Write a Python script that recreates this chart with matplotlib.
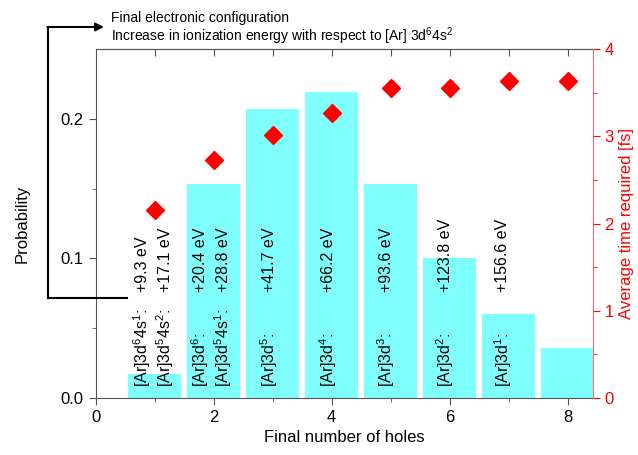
import matplotlib
matplotlib.use('Agg')
import matplotlib.pyplot as plt
import numpy as np

plt.rcParams['font.family'] = ['Liberation Sans', 'DejaVu Sans']
plt.rcParams['mathtext.fontset'] = 'custom'
plt.rcParams['mathtext.rm'] = 'Liberation Sans'
plt.rcParams['mathtext.it'] = 'Liberation Sans'

# data
holes = [1, 2, 3, 4, 5, 6, 7, 8]
probability = [0.017, 0.153, 0.207, 0.219, 0.153, 0.100, 0.060, 0.036]
avg_time = [2.15, 2.73, 3.01, 3.27, 3.55, 3.55, 3.64, 3.64]

config_x = [0.79, 1.18, 1.77, 2.16, 2.94, 3.94, 4.93, 5.92, 6.90]
config_labels = ['[Ar]3d$^6$4s$^1$:', '[Ar]3d$^5$4s$^2$:', '[Ar]3d$^6$:', '[Ar]3d$^5$4s$^1$:',
                 '[Ar]3d$^5$:', '[Ar]3d$^4$:', '[Ar]3d$^3$:', '[Ar]3d$^2$:', '[Ar]3d$^1$:']
energy_labels = ['+9.3 eV', '+17.1 eV', '+20.4 eV', '+28.8 eV', '+41.7 eV',
                 '+66.2 eV', '+93.6 eV', '+123.8 eV', '+156.6 eV']

fig = plt.figure(figsize=(6.38, 4.55), dpi=100)
ax = fig.add_axes([0.1497, 0.1253, 0.7793, 0.7667])

ax.bar(holes, probability, width=0.9, color='#80ffff', zorder=1)
for x, c, e in zip(config_x, config_labels, energy_labels):
    ax.text(x, 0.008, c, rotation=90, ha='center', va='bottom', fontsize=11.5, zorder=3)
    ax.text(x, 0.076, e, rotation=90, ha='center', va='bottom', fontsize=11.5, zorder=3)

ax.set_xlim(0, 8.42)
ax.set_ylim(0, 0.25)
ax.set_xticks([0, 2, 4, 6, 8])
ax.set_xticks([1, 3, 5, 7], minor=True)
ax.set_yticks([0.0, 0.1, 0.2])
ax.set_yticklabels(['0.0', '0.1', '0.2'])
ax.set_yticks([0.05, 0.15], minor=True)
ax.tick_params(axis='both', which='major', labelsize=12, length=5, color='#555555')
ax.tick_params(axis='both', which='minor', length=3, color='#555555')
ax.tick_params(axis='x', top=True, which='both')
ax.set_xlabel('Final number of holes', fontsize=12)
ax.set_ylabel('Probability', fontsize=12, labelpad=22)
for s in ['left', 'bottom', 'top']:
    ax.spines[s].set_color('#555555')
ax.spines['right'].set_visible(False)

ax2 = ax.twinx()
ax2.plot(holes, avg_time, 'D', color='red', markersize=9, zorder=4)
ax2.set_ylim(0, 4)
ax2.set_yticks([0, 1, 2, 3, 4])
ax2.set_yticks([0.5, 1.5, 2.5, 3.5], minor=True)
ax2.tick_params(axis='y', which='major', labelsize=12, colors='red', length=5)
ax2.tick_params(axis='y', which='minor', colors='red', length=3)
ax2.spines['right'].set_color('#ff6666')
for s in ['left', 'bottom', 'top']:
    ax2.spines[s].set_visible(False)
ax2.set_ylabel('Average time required [fs]', color='red', fontsize=12)

# top ticks point into the plot, on a copy of the x axis
top = ax.secondary_xaxis('top')
top.set_xticks([1, 2, 3, 4, 5, 6, 7, 8])
top.tick_params(direction='in', length=5, color='#555555', labeltop=False)
top.spines['top'].set_color('#555555')
ax.tick_params(axis='x', top=False, which='both')

# bracket arrow pointing to header text
fig.add_artist(plt.Line2D([48 / 638, 48 / 638], [1 - 298 / 455, 1 - 27 / 455],
                          transform=fig.transFigure, color='black', lw=1.5))
fig.add_artist(plt.Line2D([48 / 638, 127 / 638], [1 - 298 / 455, 1 - 298 / 455],
                          transform=fig.transFigure, color='black', lw=1.5))
ax.annotate('', xy=(104 / 638, 1 - 27 / 455), xytext=(47.3 / 638, 1 - 27 / 455),
            xycoords='figure fraction', textcoords='figure fraction',
            arrowprops=dict(arrowstyle='-|>', color='black', lw=1.5, mutation_scale=12,
                            shrinkA=0, shrinkB=0))
fig.text(111 / 638, 1 - 18 / 455, 'Final electronic configuration', fontsize=10, va='center')
fig.text(111 / 638, 1 - 36 / 455,
         'Increase in ionization energy with respect to [Ar] 3d$^6$4s$^2$', fontsize=10, va='center')

fig.savefig('out.png', dpi=100)
